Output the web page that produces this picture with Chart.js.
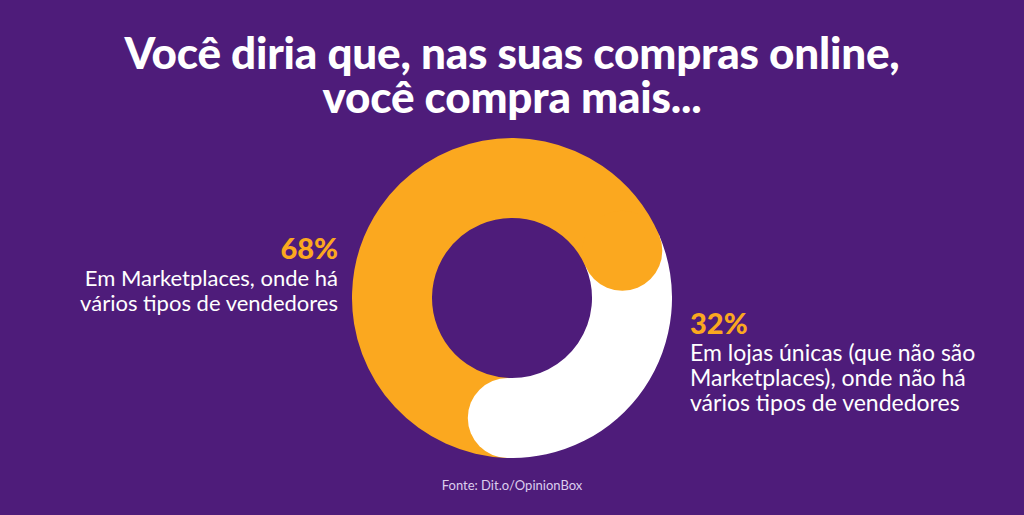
<!DOCTYPE html>
<html>
<head>
<meta charset="utf-8">
<script src="https://cdn.jsdelivr.net/npm/chart.js@4.4.0/dist/chart.umd.min.js"></script>
<style>
  html, body { margin: 0; padding: 0; }
  body { width: 1024px; height: 515px; background: #4e1c7a; position: relative; overflow: hidden; font-family: Lato, sans-serif; color: #fff; }
  .title { position: absolute; left: 0; top: 30px; width: 1024px; text-align: center; font-weight: 900; font-size: 44px; letter-spacing: -0.2px; }
  .title div { height: 44px; line-height: 44px; }
  .box { position: absolute; left: 352px; top: 138px; width: 320px; height: 320px; }
  .lbl { position: absolute; font-size: 22px; }
  .lbl div { height: 25px; line-height: 25px; }
  .lbl b { display: block; color: #fba81f; font-size: 29px; line-height: 34px; height: 34px; font-weight: 900; }
  .left { right: 686px; top: 231px; text-align: right; }
  .right { left: 690px; top: 306px; text-align: left; font-size: 23px; }
  .src { position: absolute; left: 0; width: 1024px; top: 477px; text-align: center; font-size: 13px; color: #dccdee; }
</style>
</head>
<body>
<div class="title"><div>Você diria que, nas suas compras online,</div><div>você compra mais...</div></div>
<div class="box"><canvas id="pie"></canvas></div>
<div class="lbl left"><b id="l0"></b><div>Em Marketplaces, onde há</div><div>vários tipos de vendedores</div></div>
<div class="lbl right"><b id="l1"></b><div>Em lojas únicas (que não são</div><div>Marketplaces), onde não há</div><div>vários tipos de vendedores</div></div>
<div class="src">Fonte: Dit.o/OpinionBox</div>
<script>
// Survey answers (percent)
const categories = ['Em Marketplaces', 'Em lojas únicas'];
const shares = [68, 32];
const colors = ['#fba81f', '#ffffff'];

document.getElementById('l0').textContent = shares[0] + '%';
document.getElementById('l1').textContent = shares[1] + '%';

// Round cap at the end of each slice, overlapping the next one
const roundEnds = {
    id: 'roundEnds',
    afterDatasetsDraw(chart) {
        const ctx = chart.ctx;
        chart.getDatasetMeta(0).data.forEach((arc, i) => {
            const r = (arc.outerRadius + arc.innerRadius) / 2;
            const w = (arc.outerRadius - arc.innerRadius) / 2;
            ctx.save();
            ctx.fillStyle = colors[i];
            ctx.beginPath();
            ctx.arc(arc.x + r * Math.cos(arc.endAngle), arc.y + r * Math.sin(arc.endAngle), w, 0, Math.PI * 2);
            ctx.fill();
            ctx.restore();
        });
    }
};

new Chart(document.getElementById('pie'), {
    type: 'doughnut',
    data: {
        labels: categories,
        datasets: [{
            data: shares,
            backgroundColor: colors,
            borderWidth: 0
        }]
    },
    options: {
        responsive: true,
        maintainAspectRatio: false,
        animation: false,
        cutout: '50%',
        rotation: 182,
        plugins: {
            legend: { display: false },
            tooltip: { enabled: false }
        }
    },
    plugins: [roundEnds]
});
</script>
</body>
</html>
